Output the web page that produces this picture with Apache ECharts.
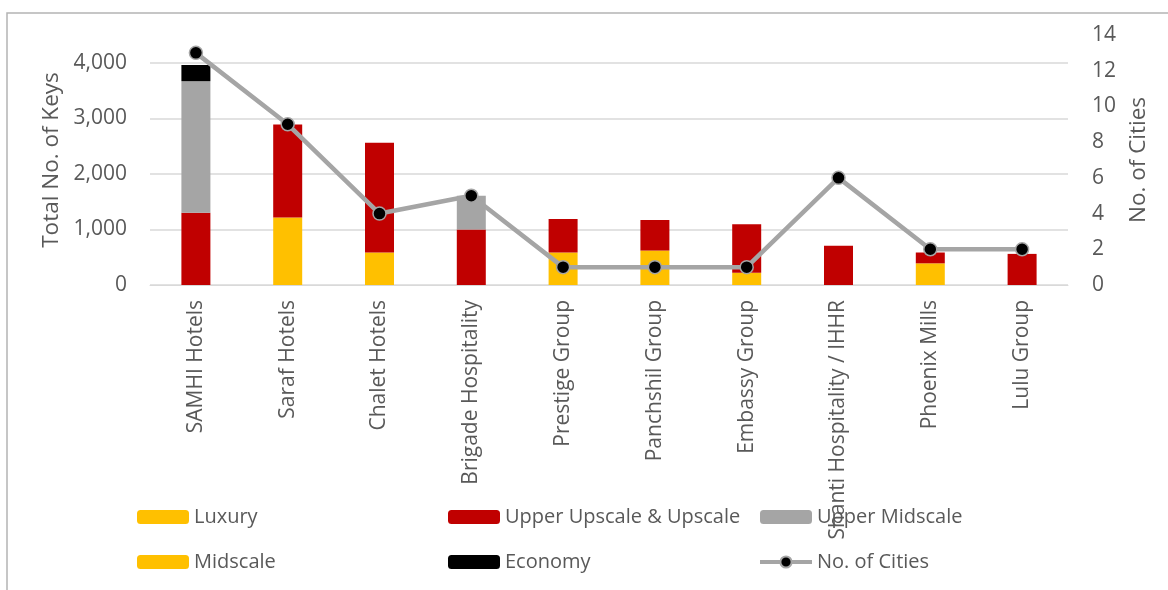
<!DOCTYPE html>
<html>
<head>
<meta charset="utf-8">
<script src="https://cdn.jsdelivr.net/npm/echarts@6/dist/echarts.min.js"></script>
<style>
  html, body { margin: 0; padding: 0; background: #fff; }
  #chart { width: 1168px; height: 590px; }
</style>
</head>
<body>
<div id="chart"></div>
<script>
// hotel groups
const groups = ['SAMHI Hotels', 'Saraf Hotels', 'Chalet Hotels', 'Brigade Hospitality', 'Prestige Group',
  'Panchshil Group', 'Embassy Group', 'Shanti Hospitality / IHHR', 'Phoenix Mills', 'Lulu Group'];

// keys per segment
const luxury = [0, 1215, 585, 0, 585, 620, 220, 0, 390, 0];
const upperUpscale = [1300, 1675, 1975, 1000, 605, 550, 875, 705, 195, 560];
const upperMidscale = [2370, 0, 0, 605, 0, 0, 0, 0, 0, 0];
const midscale = [0, 0, 0, 0, 0, 0, 0, 0, 0, 0];
const economy = [290, 0, 0, 0, 0, 0, 0, 0, 0, 0];
const cities = [13, 9, 4, 5, 1, 1, 1, 6, 2, 2];

const txt = '#595959';
const font = 'Open Sans';

let chart = echarts.init(document.getElementById('chart'));

function barSeries(name, data, color) {
  return {
    name: name,
    type: 'bar',
    stack: 'keys',
    barWidth: 29,
    itemStyle: { color: color },
    data: data
  };
}

//three legend columns like the excel one
function legendCol(left, names) {
  return {
    orient: 'vertical',
    left: left,
    top: 502,
    itemWidth: 52,
    itemHeight: 14,
    itemGap: 25,
    data: names,
    textStyle: { color: txt, fontFamily: font, fontSize: 20 }
  };
}

let option = {
  animation: false,
  textStyle: { fontFamily: font },
  graphic: [{
    type: 'rect',
    shape: { x: 7, y: 13, width: 1300, height: 800 },
    style: { fill: 'none', stroke: '#B4B4B4', lineWidth: 1.5 },
    silent: true
  }],
  grid: { left: 150, right: 100, top: 35, bottom: 305 },
  legend: [
    legendCol(132, ['Luxury', 'Midscale']),
    legendCol(443, ['Upper Upscale & Upscale', 'Economy']),
    legendCol(753, ['Upper Midscale', { name: 'No. of Cities', lineStyle: { width: 4 } }])
  ],
  xAxis: {
    type: 'category',
    data: groups,
    axisTick: { show: false },
    axisLine: { lineStyle: { color: '#D9D9D9', width: 1 } },
    axisLabel: { rotate: 90, color: txt, fontSize: 21, margin: 15, interval: 0 }
  },
  yAxis: [
    {
      type: 'value',
      min: 0,
      max: 4500,
      interval: 1000,
      name: 'Total No. of Keys',
      nameLocation: 'middle',
      nameRotate: 90,
      nameGap: 86,
      nameTextStyle: { color: txt, fontSize: 22.5 },
      axisLabel: {
        color: txt,
        fontSize: 21,
        margin: 23,
        showMaxLabel: false,
        formatter: v => v.toLocaleString('en-US')
      },
      splitLine: { showMaxLine: false, lineStyle: { color: '#D9D9D9', width: 1.5 } }
    },
    {
      type: 'value',
      min: 0,
      max: 14,
      interval: 2,
      name: 'No. of Cities',
      nameLocation: 'middle',
      nameRotate: 90,
      nameGap: 58,
      nameTextStyle: { color: txt, fontSize: 22.5 },
      axisLabel: { color: txt, fontSize: 21, margin: 24 },
      splitLine: { show: false }
    }
  ],
  series: [
    barSeries('Luxury', luxury, '#FFC000'),
    barSeries('Upper Upscale & Upscale', upperUpscale, '#C00000'),
    barSeries('Upper Midscale', upperMidscale, '#A5A5A5'),
    barSeries('Midscale', midscale, '#FFC000'),
    barSeries('Economy', economy, '#000000'),
    {
      name: 'No. of Cities',
      type: 'line',
      yAxisIndex: 1,
      symbol: 'circle',
      symbolSize: 13,
      lineStyle: { color: '#A5A5A5', width: 4.5 },
      itemStyle: { color: '#000000', borderColor: '#A5A5A5', borderWidth: 1.5 },
      data: cities
    }
  ]
};
chart.setOption(option);
</script>
</body>
</html>
